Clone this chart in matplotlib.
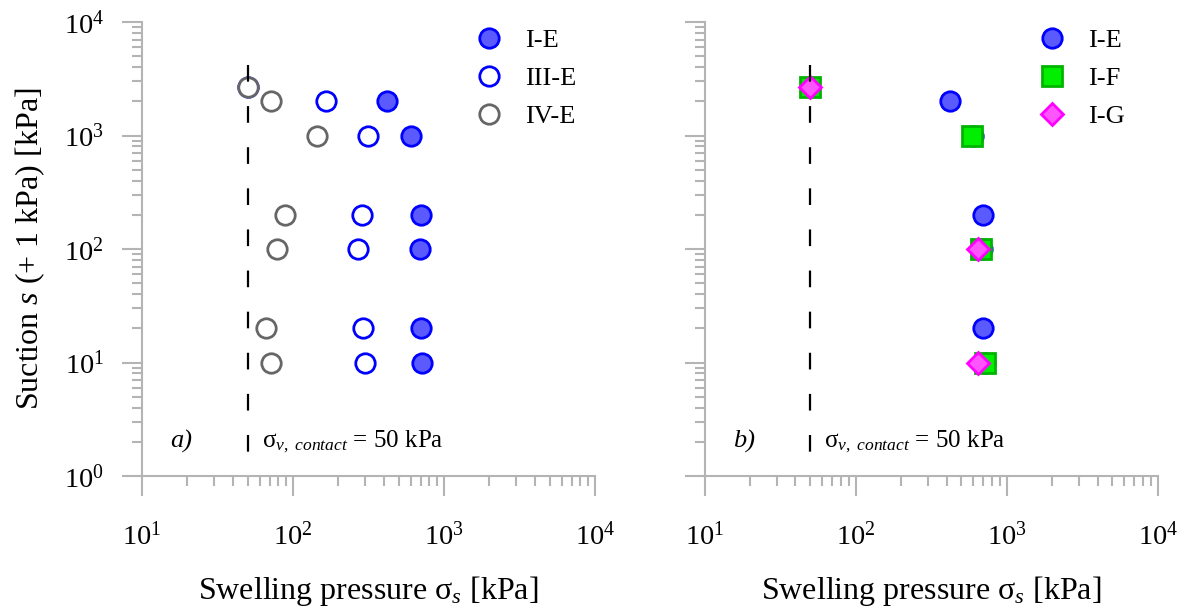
import matplotlib
matplotlib.use("Agg")
import matplotlib.pyplot as plt
from matplotlib.ticker import LogLocator, NullFormatter

plt.rcParams["font.family"] = "Liberation Serif"
plt.rcParams["mathtext.fontset"] = "custom"
plt.rcParams["mathtext.rm"] = "Liberation Serif"
plt.rcParams["mathtext.it"] = "Liberation Serif:italic"
plt.rcParams["mathtext.default"] = "regular"

# suction levels (kPa) and swelling pressures (kPa)
s_IE = [2000, 1000, 200, 100, 20, 10]
p_IE = [420, 600, 700, 690, 700, 720]

s_IIIE = [2700, 2000, 1000, 200, 100, 20, 10]
p_IIIE = [50, 165, 315, 285, 270, 290, 300]

s_IVE = [2700, 2000, 1000, 200, 100, 20, 10]
p_IVE = [50, 71, 144, 88, 78, 66, 72]

s_IF = [2700, 1000, 100, 10]
p_IF = [50, 590, 680, 720]

s_IG = [2700, 100, 10]
p_IG = [50, 650, 650]

sigma_contact = 50

GRAY = "#b4b4b4"
W, H = 1188, 614


def style_axis(ax, ylabels=True):
    ax.set_xscale("log")
    ax.set_yscale("log")
    ax.set_xlim(10, 1e4)
    ax.set_ylim(1, 1e4)
    for side in ("top", "right"):
        ax.spines[side].set_visible(False)
    for side in ("left", "bottom"):
        ax.spines[side].set_color(GRAY)
        ax.spines[side].set_linewidth(1.5)
    ax.xaxis.set_minor_locator(LogLocator(base=10, subs=range(2, 10), numticks=20))
    ax.yaxis.set_minor_locator(LogLocator(base=10, subs=range(2, 10), numticks=20))
    ax.xaxis.set_minor_formatter(NullFormatter())
    ax.yaxis.set_minor_formatter(NullFormatter())
    ax.tick_params(which="major", length=14.4, width=1.5, color=GRAY,
                   direction="out", labelsize=20.5)
    ax.tick_params(axis="x", which="major", pad=19)
    ax.tick_params(axis="y", which="major", pad=13)
    ax.tick_params(which="minor", length=7, width=1.5, color=GRAY, direction="out")
    if not ylabels:
        ax.tick_params(axis="y", which="both", labelleft=False)
    ax.set_xlabel(r"Swelling pressure $\mathrm{σ}_{\mathit{s}}$ [kPa]", fontsize=23, labelpad=17)
    ax.plot([sigma_contact, sigma_contact], [4200, 1.2], color="black", lw=1.6,
            dashes=(7.5, 11), zorder=5)
    ax.text(62, 2.0, r"$\mathrm{σ}_{\mathit{v,\ contact}}$ = 50 kPa", fontsize=18,
            va="center", ha="left")


fig = plt.figure(figsize=(W / 100, H / 100), dpi=100)
ax1 = fig.add_axes([142 / W, 1 - 476 / H, (595 - 142) / W, (476 - 22) / H])
ax2 = fig.add_axes([704.5 / W, 1 - 476 / H, (1157.7 - 704.5) / W, (476 - 22) / H])

mk = dict(linestyle="none", markersize=14, markeredgewidth=2)
leg = dict(loc="upper left", bbox_to_anchor=(0.703, 1.015), frameon=False,
           fontsize=19, handletextpad=0.75, labelspacing=0.56, borderpad=0,
           handlelength=1.2)

# a) E-series
ax1.plot(p_IE, s_IE, marker="o", color="#0000ff", markerfacecolor="#5a5aff", label="I-E", **mk)
ax1.plot(p_IIIE, s_IIIE, marker="o", color="#0000ff", markerfacecolor="white", label="III-E", **mk)
ax1.plot(p_IVE, s_IVE, marker="o", color="#666666", markerfacecolor="white", label="IV-E", **mk)
style_axis(ax1)
ax1.set_ylabel(r"Suction $\mathit{s}$ (+ 1 kPa) [kPa]", fontsize=23, labelpad=12)
ax1.text(15.3, 2.0, "a)", fontsize=19, style="italic", va="center")
ax1.legend(**leg)

# b) I-series
ax2.plot(p_IE, s_IE, marker="o", color="#0000ff", markerfacecolor="#5a5aff", label="I-E", **mk)
ax2.plot(p_IF, s_IF, marker="s", color="#00b400", markerfacecolor="#00ee00", label="I-F", **mk)
ax2.plot(p_IG, s_IG, marker="D", color="#ff00ff", markerfacecolor="#ff55ff", label="I-G",
         linestyle="none", markersize=11, markeredgewidth=2)
style_axis(ax2, ylabels=False)
ax2.text(15.4, 2.0, "b)", fontsize=19, style="italic", va="center")
ax2.legend(**leg)

fig.savefig("out.png", dpi=100)
